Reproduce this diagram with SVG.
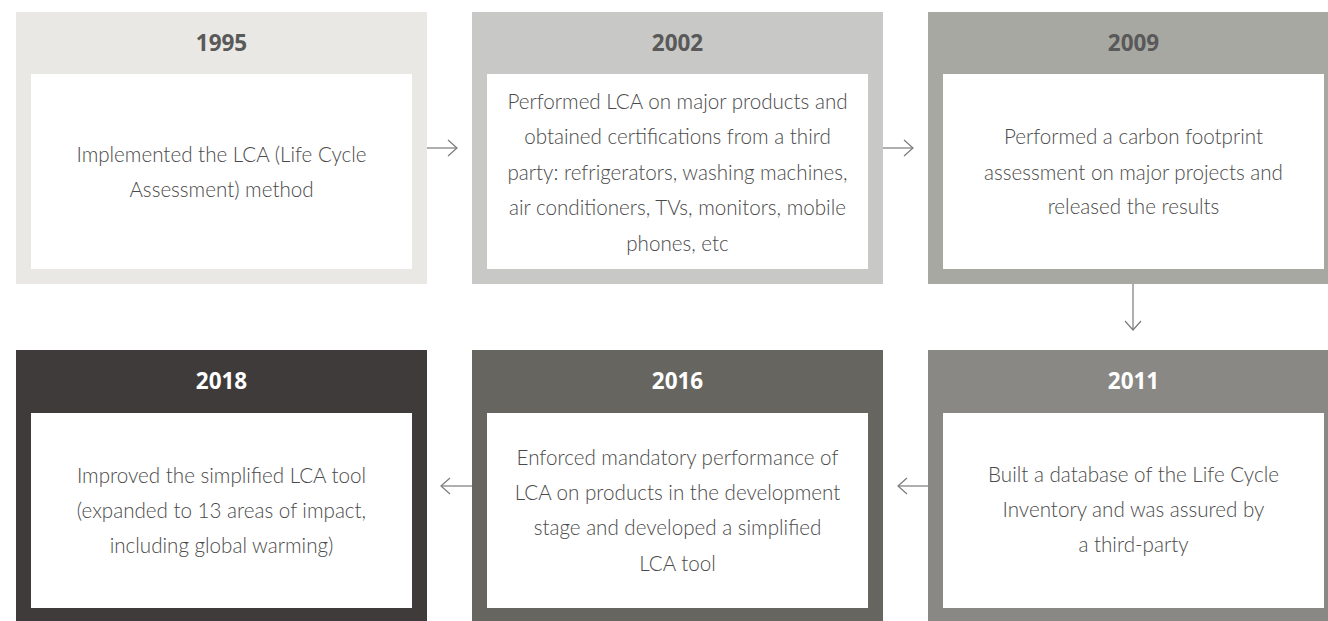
<svg xmlns="http://www.w3.org/2000/svg" width="1328" height="621" viewBox="0 0 1328 621">
<defs>
<style>
.inner{fill:#ffffff}
.year{font-family:"Open Sans","Liberation Sans",sans-serif;font-weight:700;font-size:22.5px;text-anchor:middle}
.ydark{fill:#595959}
.ylight{fill:#ffffff}
.body{font-family:"Lato","Open Sans","Liberation Sans",sans-serif;font-weight:300;font-size:20.6px;fill:#4a4a4a;text-anchor:middle}
.conn{stroke:#7a7a7a;stroke-width:1.2;fill:none}
</style>
<marker id="ah" markerWidth="12" markerHeight="20" refX="10" refY="9" orient="auto" markerUnits="userSpaceOnUse">
<path d="M1,1 L10,9 L1,17" fill="none" stroke="#7a7a7a" stroke-width="1.2"/>
</marker>
</defs>
<rect width="1328" height="621" fill="#ffffff"/>
<g id="connectors">
<line class="conn" x1="427" y1="148" x2="457" y2="148" marker-end="url(#ah)"/>
<line class="conn" x1="883" y1="148" x2="913" y2="148" marker-end="url(#ah)"/>
<line class="conn" x1="1133" y1="284" x2="1133" y2="330" marker-end="url(#ah)"/>
<line class="conn" x1="928" y1="486" x2="898" y2="486" marker-end="url(#ah)"/>
<line class="conn" x1="472" y1="486" x2="441" y2="486" marker-end="url(#ah)"/>
</g>
<g id="node-1995">
<rect x="16" y="12" width="411" height="272" fill="#eae8e4"/>
<rect class="inner" x="31" y="74" width="381" height="195"/>
<text class="year ydark" x="221.5" y="51">1995</text>
<text class="body" x="221.5" y="162">Implemented the LCA (Life Cycle</text>
<text class="body" x="221.5" y="197">Assessment) method</text>
</g>
<g id="node-2002">
<rect x="472" y="12" width="411" height="272" fill="#c8c8c6"/>
<rect class="inner" x="487" y="74" width="381" height="195"/>
<text class="year ydark" x="677.5" y="51">2002</text>
<text class="body" x="677.5" y="109">Performed LCA on major products and</text>
<text class="body" x="677.5" y="144">obtained certifications from a third</text>
<text class="body" x="677.5" y="180">party: refrigerators, washing machines,</text>
<text class="body" x="677.5" y="215">air conditioners, TVs, monitors, mobile</text>
<text class="body" x="677.5" y="251">phones, etc</text>
</g>
<g id="node-2009">
<rect x="928" y="12" width="411" height="272" fill="#a8a8a3"/>
<rect class="inner" x="943" y="74" width="381" height="195"/>
<text class="year ydark" x="1133.5" y="51">2009</text>
<text class="body" x="1133.5" y="144">Performed a carbon footprint</text>
<text class="body" x="1133.5" y="180">assessment on major projects and</text>
<text class="body" x="1133.5" y="214">released the results</text>
</g>
<g id="node-2011">
<rect x="928" y="350" width="411" height="272" fill="#8a8884"/>
<rect class="inner" x="943" y="413" width="381" height="195"/>
<text class="year ylight" x="1133.5" y="389">2011</text>
<text class="body" x="1133.5" y="482">Built a database of the Life Cycle</text>
<text class="body" x="1133.5" y="517">Inventory and was assured by</text>
<text class="body" x="1133.5" y="552">a third-party</text>
</g>
<g id="node-2016">
<rect x="472" y="350" width="411" height="272" fill="#67655f"/>
<rect class="inner" x="487" y="413" width="381" height="195"/>
<text class="year ylight" x="677.5" y="389">2016</text>
<text class="body" x="677.5" y="465">Enforced mandatory performance of</text>
<text class="body" x="677.5" y="500">LCA on products in the development</text>
<text class="body" x="677.5" y="535">stage and developed a simplified</text>
<text class="body" x="677.5" y="571">LCA tool</text>
</g>
<g id="node-2018">
<rect x="16" y="350" width="411" height="272" fill="#3f3b3a"/>
<rect class="inner" x="31" y="413" width="381" height="195"/>
<text class="year ylight" x="221.5" y="389">2018</text>
<text class="body" x="221.5" y="483">Improved the simplified LCA tool</text>
<text class="body" x="221.5" y="518">(expanded to 13 areas of impact,</text>
<text class="body" x="221.5" y="553">including global warming)</text>
</g>
</svg>
